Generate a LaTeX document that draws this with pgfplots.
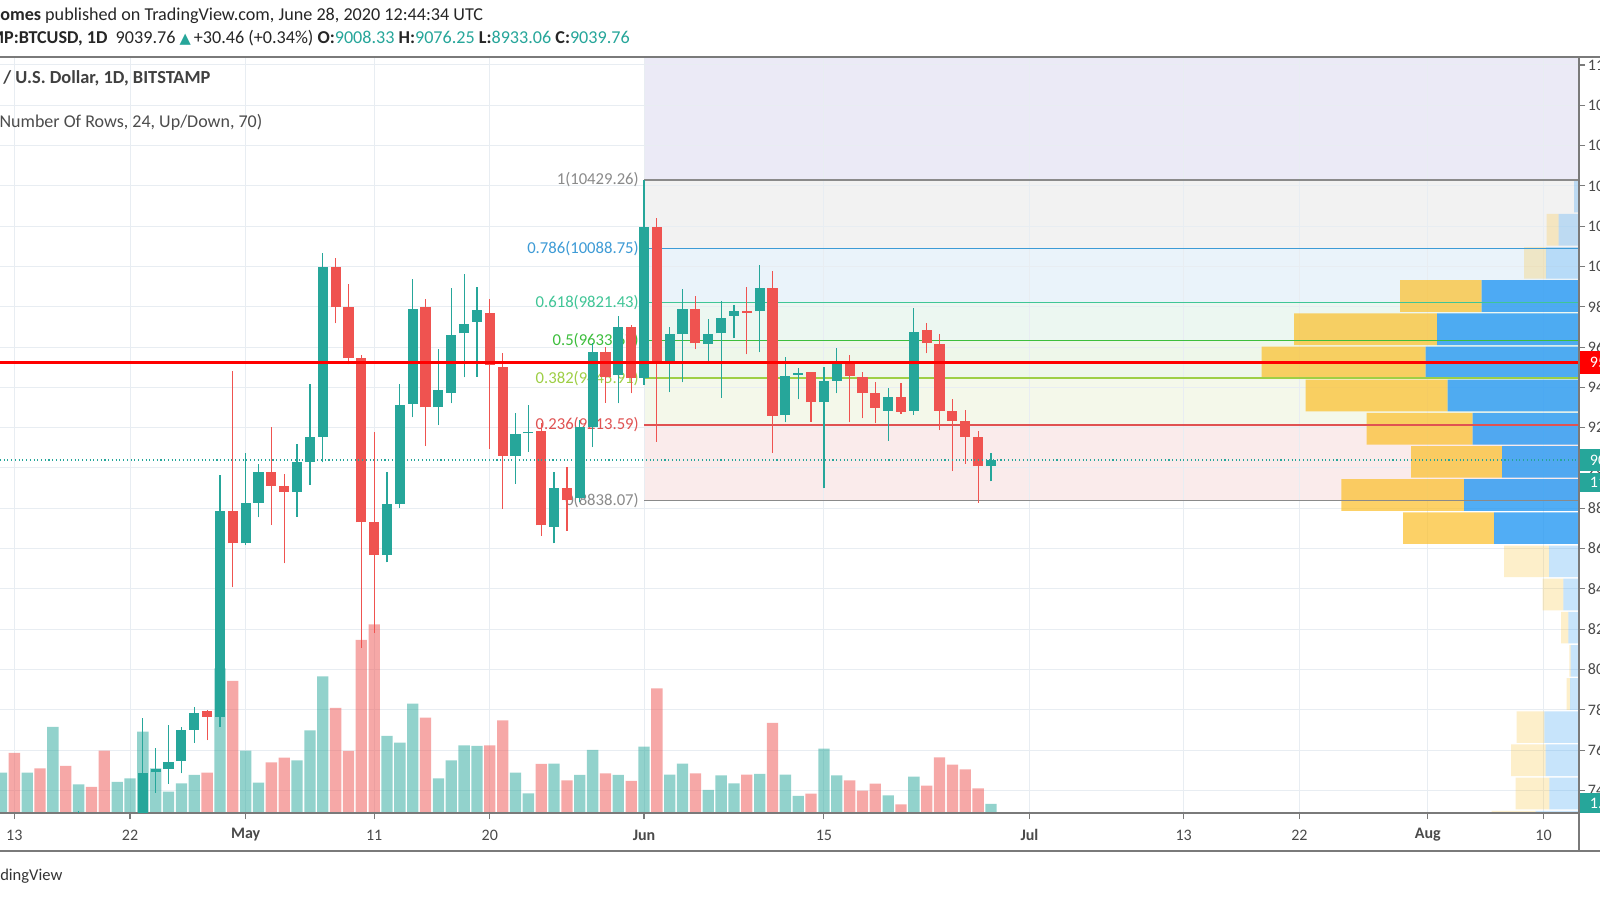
\documentclass[border=0pt]{standalone}
\usepackage{fontspec}
\setmainfont{Carlito}
\newfontfamily\dejavu{DejaVu Sans}
\usepackage{pgfplots}
\usepackage{pgfplotstable}
\pgfplotsset{compat=1.18}
\definecolor{up}{HTML}{26A69A}
\definecolor{dn}{HTML}{EF5350}
\definecolor{gridc}{HTML}{E8EDF2}
\definecolor{txt}{HTML}{4A4A4A}
\definecolor{lav}{HTML}{EBEAF6}
\definecolor{fA}{HTML}{F2F2F2}
\definecolor{fB}{HTML}{EAF3FA}
\definecolor{fC}{HTML}{ECF7F1}
\definecolor{fD}{HTML}{EEF7EA}
\definecolor{fE}{HTML}{F4F8EA}
\definecolor{fF}{HTML}{FAEBEB}
\definecolor{lvA}{HTML}{8A8A8A}
\definecolor{lvB}{HTML}{3D9BD6}
\definecolor{lvC}{HTML}{3FC596}
\definecolor{lvD}{HTML}{3DBE3D}
\definecolor{lvE}{HTML}{9ECF45}
\definecolor{lvF}{HTML}{E05252}
\definecolor{vpb}{HTML}{2196F3}
\definecolor{vpy}{HTML}{FBC02D}
\definecolor{framec}{HTML}{7A7A7A}

\pgfplotstableread{
x lo hi bot top
-44 7020 7300 7030 7260
-39 7020 7758 7130 7485
-38 7389 7609 7490 7506
-37 7432 7725 7506 7543
-36 7485 7716 7545 7700
-35 7637 7812 7700 7783
-33 7716 8965 7766 8788
-31 8618 9073 8626 8828
-30 8755 9018 8828 8982
-27 8758 9117 8880 9031
-26 8916 9417 9031 9155
-25 9028 10069 9155 9996
-20 8532 8982 8568 8821
-19 8803 9417 8821 9313
-18 9251 9938 9318 9787
-16 9213 9589 9301 9385
-15 9321 9892 9374 9660
-14 9450 9963 9668 9715
-13 9453 9900 9726 9784
-10 8921 9271 9060 9169
-9 9081 9313 9172 9179
-7 8626 8982 8709 8899
-5 8830 9238 8849 9202
-4 9103 9619 9205 9574
-2 9321 9754 9461 9698
0 9412 10429.26 9445 10198
2 9375 9698 9519 9665
3 9425 9887 9665 9787
5 9523 9739 9615 9665
6 9349 9829 9668 9746
7 9643 9809 9756 9779
9 9574 10007 9779 9892
11 9227 9553 9263 9457
12 9341 9495 9462 9473
14 8899 9503 9326 9432
15 9370 9594 9432 9524
19 9134 9395 9285 9351
21 9263 9796 9285 9677
27 8933.06 9076.25 9008.33 9039.76
}\upc

\pgfplotstableread{
x lo hi bot top
-34 7650 7799 7766 7794
-32 8408 9481 8626 8788
-29 8717 9205 8912 8982
-28 8527 8970 8880 8912
-24 9718 10040 9797 9996
-23 9514 9913 9544 9797
-22 8106 9561 8730 9544
-21 8181 9180 8568 8730
-17 9109 9839 9301 9800
-12 9094 9839 9511 9771
-11 8796 9569 9060 9503
-8 8664 9222 8715 9184
-6 8689 9007 8840 8899
-3 9324 9602 9453 9577
-1 9370 9710 9445 9698
1 9131 10239 9519 10198
4 9589 9854 9618 9787
8 9564 9897 9771 9781
10 9076 9978 9260 9892
13 9230 9478 9326 9475
16 9227 9561 9457 9524
17 9246 9475 9371 9453
18 9222 9425 9299 9371
20 9268 9420 9280 9351
22 9569 9721 9619 9683
23 9188 9665 9285 9614
24 8985 9341 9235 9285
25 9020 9288 9155 9235
26 8828 9185 9008 9155
}\dnc

\pgfplotstableread{
x h
-50 40.3
-48 40.3
-46 86
-44 28.7
-41 31
-40 34.7
-39 81.3
-38 44.7
-37 21.3
-36 29.7
-35 38
-33 144.7
-31 62.3
-30 30.3
-27 52.7
-26 82.7
-25 136.7
-20 77
-19 70.3
-18 109.3
-16 34.7
-15 52.7
-14 67.7
-13 67
-10 40.3
-9 19.7
-7 49.3
-5 38
-4 63
-2 38
0 66.3
2 38.3
3 49.3
5 23
6 37.7
7 29.7
9 39
11 38.3
12 17
14 64.3
15 37.7
19 17.7
21 36.3
27 9
}\upv

\pgfplotstableread{
x h
-49 60
-47 44.7
-45 47
-43 26
-42 62.3
-34 40.3
-32 132
-29 50.7
-28 55.3
-24 105
-23 62
-22 173
-21 188.7
-17 95.3
-12 67.7
-11 92.7
-8 49
-6 32.7
-3 39.7
-1 32
1 124.7
4 39.7
8 38.3
10 90
13 19.3
16 32.7
17 22.3
18 29.3
20 8.7
22 27.3
23 55.7
24 48.3
25 43.7
26 24.7
}\dnv

\pgfplotstableread{
y bl bd yl yd
10347.0 5 0 0 0
10182.4 20.3 0 12 0
10017.9 33 0 22 0
9853.3 0 97.3 0 81.7
9688.7 0 142 0 143
9524.2 0 153.3 0 164
9359.6 0 131.3 0 142
9195.0 0 106.3 0 106
9030.4 0 77 0 91
8865.9 0 115 0 122.7
8701.3 0 85 0 91
8536.7 30 0 45 0
8372.2 15.7 0 20.6 0
8207.6 10.7 0 7.3 0
8043.0 8.3 0 1.4 0
7878.5 9 0 3.3 0
7713.9 34.7 0 27.6 0
7549.3 33.3 0 34.7 0
7384.8 29.7 0 33.6 0
7220.2 43.3 0 44 0
}\vp

\pgfplotsset{
  tvbox/.style={at={(0pt,65.25pt)}, anchor=south west, width=1184.25pt, height=567pt, scale only axis},
  tvdays/.style={xmin=-50.117, xmax=72.763},
  tvprice/.style={ymin=7287.8, ymax=11039.7},
}
\newcommand{\tvf}{\fontsize{12}{14}\selectfont}
\newcommand{\hdf}{\fontsize{13.6}{16}\selectfont}
\newcommand{\fibf}{\fontsize{12.5}{14}\selectfont}

\begin{document}
\begin{tikzpicture}
\path[use as bounding box] (0,0) rectangle (1200pt,675pt);
\fill[white] (0,0) rectangle (1200pt,675pt);
\clip (0,0) rectangle (1200pt,675pt);

\begin{axis}[tvbox, tvdays, tvprice, axis on top,
  axis line style={draw=none}, tick style={draw=none},
  scaled x ticks=false, scaled y ticks=false,
  xtick={-49,-40,-31,-21,-12,0,14,30,42,51,61,70},
  ytick={7400,7600,...,11000}, xticklabels={}, yticklabels={},
  grid=major, major grid style={gridc, line width=0.75pt}]
  \addplot[fill=lav, draw=none] coordinates {(0.08,10429.26) (80,10429.26) (80,11100) (0.08,11100)};
  \addplot[fill=fA, draw=none] coordinates {(0.08,10088.75) (80,10088.75) (80,10429.26) (0.08,10429.26)};
  \addplot[fill=fB, draw=none] coordinates {(0.08,9821.43) (80,9821.43) (80,10088.75) (0.08,10088.75)};
  \addplot[fill=fC, draw=none] coordinates {(0.08,9633.67) (80,9633.67) (80,9821.43) (0.08,9821.43)};
  \addplot[fill=fD, draw=none] coordinates {(0.08,9445.91) (80,9445.91) (80,9633.67) (0.08,9633.67)};
  \addplot[fill=fE, draw=none] coordinates {(0.08,9213.59) (80,9213.59) (80,9445.91) (0.08,9445.91)};
  \addplot[fill=fF, draw=none] coordinates {(0.08,8838.07) (80,8838.07) (80,9213.59) (0.08,9213.59)};
\end{axis}

\begin{axis}[tvbox, tvdays, ymin=0, ymax=756, hide axis]
  \addplot[ybar, bar shift=0pt, bar width=0.88, fill=up, fill opacity=0.5, draw=none] table[x=x, y=h] {\upv};
  \addplot[ybar, bar shift=0pt, bar width=0.88, fill=dn, fill opacity=0.5, draw=none] table[x=x, y=h] {\dnv};
\end{axis}

\begin{axis}[tvbox, tvprice, xmin=0, xmax=1579, x dir=reverse, hide axis, xbar stacked, bar width=157]
  \addplot[fill=vpb, fill opacity=0.25, draw=none] table[x=bl, y=y] {\vp};
  \addplot[fill=vpb, fill opacity=0.78, draw=none] table[x=bd, y=y] {\vp};
  \addplot[fill=vpy, fill opacity=0.25, draw=none] table[x=yl, y=y] {\vp};
  \addplot[fill=vpy, fill opacity=0.72, draw=none] table[x=yd, y=y] {\vp};
\end{axis}

\begin{axis}[tvbox, tvdays, tvprice, clip mode=individual,
  axis x line*=bottom, axis y line*=right,
  axis line style={framec, line width=1pt},
  tick style={framec, line width=0.8pt}, tick align=outside, major tick length=4.5pt,
  xtick={-49,-40,-31,-21,-12,0,14,30,42,51,61,70},
  xticklabels={13,22,\textbf{May},11,20,\textbf{Jun},15,\textbf{Jul},13,22,\textbf{Aug},10},
  ytick={7400,7600,...,11000}, scaled y ticks=false,
  yticklabel style={anchor=west, inner sep=0pt, xshift=2pt, font=\tvf, text=txt,
    /pgf/number format/.cd, fixed, fixed zerofill, precision=2, 1000 sep={}, assume math mode=true},
  xticklabel style={anchor=center, yshift=-12pt, font=\tvf, text=txt}]
  \addplot[lvA, line width=1.1pt] coordinates {(0,10429.26) (80,10429.26)};
  \addplot[lvB, line width=1.1pt] coordinates {(0,10088.75) (80,10088.75)};
  \addplot[lvC, line width=1.1pt] coordinates {(0,9821.43) (80,9821.43)};
  \addplot[lvD, line width=1.1pt] coordinates {(0,9633.67) (80,9633.67)};
  \addplot[lvE, line width=1.1pt] coordinates {(0,9445.91) (80,9445.91)};
  \addplot[lvF, line width=1.1pt] coordinates {(0,9213.59) (80,9213.59)};
  \addplot[lvA, line width=1.1pt] coordinates {(0,8838.07) (80,8838.07)};
  \node[anchor=east, inner sep=0pt, text=lvA, font=\fibf] at (axis cs:-0.39,10429.26) {1(10429.26)};
  \node[anchor=east, inner sep=0pt, text=lvB, font=\fibf] at (axis cs:-0.39,10088.75) {0.786(10088.75)};
  \node[anchor=east, inner sep=0pt, text=lvC, font=\fibf] at (axis cs:-0.39,9821.43) {0.618(9821.43)};
  \node[anchor=east, inner sep=0pt, text=lvD, font=\fibf] at (axis cs:-0.39,9633.67) {0.5(9633.67)};
  \node[anchor=east, inner sep=0pt, text=lvE, font=\fibf] at (axis cs:-0.39,9445.91) {0.382(9445.91)};
  \node[anchor=east, inner sep=0pt, text=lvF, font=\fibf] at (axis cs:-0.39,9213.59) {0.236(9213.59)};
  \node[anchor=east, inner sep=0pt, text=lvA, font=\fibf] at (axis cs:-0.39,8838.07) {0(8838.07)};
  \addplot[draw=none, mark=none, error bars/.cd, y dir=plus, y explicit, error mark=none,
    error bar style={draw=up, line width=0.9pt}]
    table[x=x, y=lo, y error plus expr={\thisrow{hi}-\thisrow{lo}}] {\upc};
  \addplot[draw=none, mark=none, error bars/.cd, y dir=plus, y explicit, error mark=none,
    error bar style={draw=dn, line width=0.9pt}]
    table[x=x, y=lo, y error plus expr={\thisrow{hi}-\thisrow{lo}}] {\dnc};
  \addplot[draw=none, mark=none, error bars/.cd, y dir=plus, y explicit, error mark=none,
    error bar style={draw=up, line width=7.6pt}]
    table[x=x, y=bot, y error plus expr={max(\thisrow{top}-\thisrow{bot},6)}] {\upc};
  \addplot[draw=none, mark=none, error bars/.cd, y dir=plus, y explicit, error mark=none,
    error bar style={draw=dn, line width=7.6pt}]
    table[x=x, y=bot, y error plus expr={max(\thisrow{top}-\thisrow{bot},6)}] {\dnc};
  \addplot[red, line width=2.25pt] coordinates {(-60,9522) (80,9522)};
  \addplot[up, dotted, line width=0.8pt] coordinates {(-60,9039.76) (80,9039.76)};
  \node[fill=red, text=white, anchor=west, inner xsep=8pt, inner ysep=0pt, minimum height=17pt, font=\tvf] at (axis cs:72.763,9522) {9522.00};
  \node[fill=up, text=white, anchor=west, inner xsep=8pt, inner ysep=0pt, minimum height=16.5pt, font=\tvf] at (axis cs:72.763,9039.76) {9039.76};
  \node[fill=up, text=white, anchor=west, inner xsep=8pt, inner ysep=0pt, minimum height=14pt, font=\tvf] at (axis cs:72.763,8927.6) {11:15:25};
  \node[fill=up, text=white, anchor=west, inner xsep=8pt, inner ysep=0pt, minimum height=15pt, font=\tvf] at (axis cs:72.763,7337) {1.195K};
\end{axis}

\draw[framec, line width=1.1pt] (0,632.25pt) -- (1200pt,632.25pt);
\draw[framec, line width=1.1pt] (0,36.75pt) -- (1200pt,36.75pt);
\draw[framec, line width=1pt] (1184.25pt,36.75pt) -- (1184.25pt,632.25pt);

\node[anchor=west, inner sep=0pt, font=\hdf, text=black!85] at (0pt,663.5pt)
  {\textbf{omes} published on TradingView.com, June 28, 2020 12:44:34 UTC};
\node[anchor=west, inner sep=0pt, font=\hdf, text=black!85] at (-9pt,646.6pt)
  {\llap{\textbf{BITSTA}}\textbf{MP:BTCUSD, 1D}\ \ 9039.76 \textcolor{up}{\dejavu\fontsize{11}{12}\selectfont ▲}\,+30.46 (+0.34\%) \textbf{O:}\textcolor{up}{9008.33} \textbf{H:}\textcolor{up}{9076.25} \textbf{L:}\textcolor{up}{8933.06} \textbf{C:}\textcolor{up}{9039.76}};
\node[anchor=west, inner sep=0pt, font=\fontsize{13.8}{16}\selectfont, text=black!75] at (2.25pt,616pt)
  {\llap{\textbf{Bitcoin}\ }\textbf{/ U.S. Dollar, 1D, BITSTAMP}};
\node[anchor=west, inner sep=0pt, font=\fontsize{13.5}{16}\selectfont, text=black!70] at (-0.5pt,583.2pt)
  {\llap{VPVR\ (}Number Of Rows, 24, Up/Down, 70)};
\node[anchor=west, inner sep=0pt, font=\fontsize{12.4}{14}\selectfont, text=black!80] at (0pt,18pt)
  {\llap{Tra}dingView};
\end{tikzpicture}
\end{document}
